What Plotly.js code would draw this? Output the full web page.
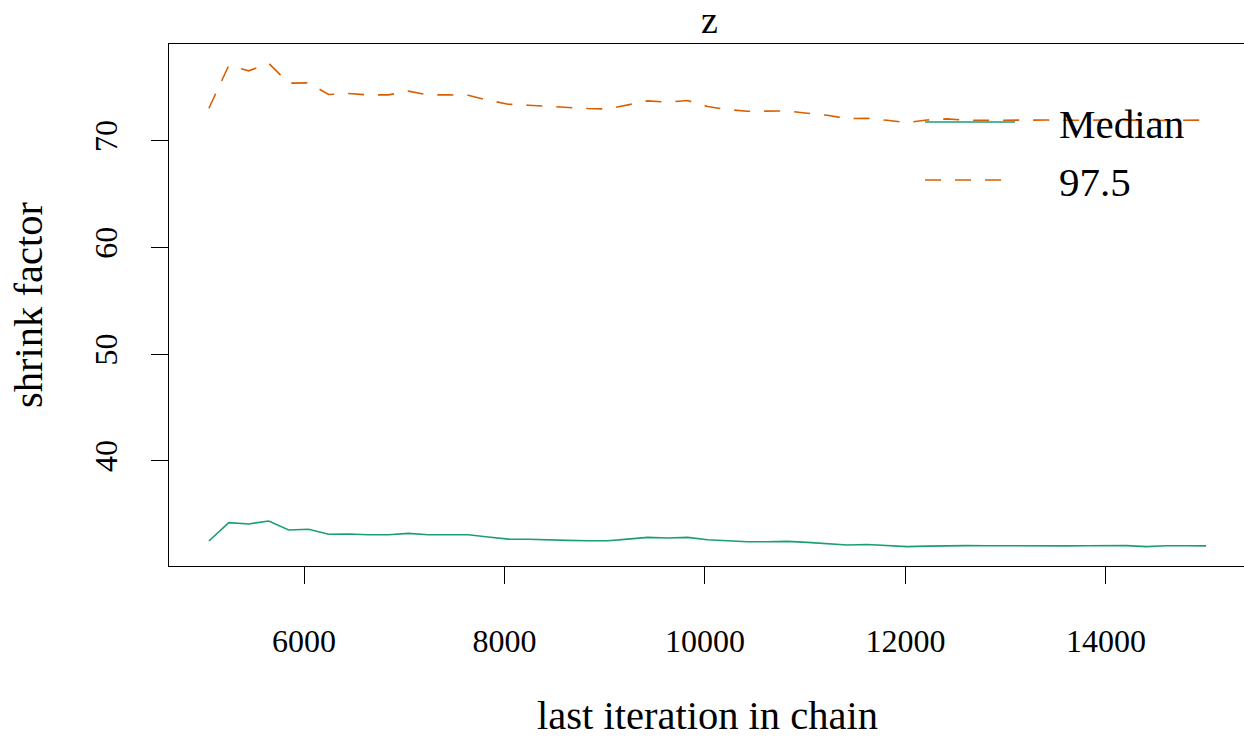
<!DOCTYPE html>
<html>
<head>
<meta charset="utf-8">
<script src="https://cdn.plot.ly/plotly-3.0.1.min.js"></script>
<style>
  html, body { margin: 0; padding: 0; background: #ffffff; overflow: hidden; }
  #chart { width: 1246px; height: 738px; }
</style>
</head>
<body>
<div id="chart"></div>
<script>
// Last iteration of each bin of the chain
const lastIteration = [
  5051, 5250, 5449, 5648, 5847, 6046, 6245, 6444, 6643, 6842,
  7041, 7240, 7439, 7638, 7837, 8036, 8235, 8434, 8633, 8832,
  9031, 9230, 9429, 9628, 9827, 10026, 10225, 10424, 10623, 10822,
  11021, 11220, 11419, 11618, 11817, 12016, 12215, 12414, 12613, 12812,
  13011, 13210, 13409, 13608, 13807, 14006, 14205, 14404, 14603, 14802,
  15000
];

// Shrink factor, median
const shrinkMedian = [
  32.48, 34.20, 34.08, 34.36, 33.51, 33.58, 33.11, 33.14, 33.07, 33.07,
  33.20, 33.07, 33.07, 33.07, 32.85, 32.66, 32.64, 32.57, 32.54, 32.51,
  32.51, 32.66, 32.82, 32.76, 32.82, 32.60, 32.48, 32.41, 32.41, 32.45,
  32.35, 32.26, 32.10, 32.16, 32.07, 31.95, 32.00, 32.06, 32.05, 32.04,
  32.02, 32.01, 32.01, 32.02, 32.04, 32.06, 32.05, 31.95, 32.03, 32.03,
  32.02
];

// Shrink factor, 97.5% quantile
const shrinkUpper = [
  73.06, 77.08, 76.57, 77.27, 75.41, 75.44, 74.35, 74.44, 74.31, 74.31,
  74.66, 74.31, 74.31, 74.28, 73.81, 73.44, 73.34, 73.23, 73.09, 73.03,
  72.99, 73.34, 73.75, 73.63, 73.78, 73.22, 72.94, 72.78, 72.78, 72.81,
  72.59, 72.40, 72.09, 72.12, 71.93, 71.71, 71.96, 72.06, 71.93, 71.95,
  71.98, 71.97, 71.95, 71.93, 71.95, 71.98, 71.97, 71.90, 71.93, 71.95,
  71.95
];

const seriesNames = ["Median", "97.5"];
const seriesColors = ["#1B9E77", "#D95F02"];
const seriesDash = ["solid", "16px,14px"];
const xTicks = [6000, 8000, 10000, 12000, 14000];
const yTicks = [40, 50, 60, 70];

// Axis ranges padded by 4% on each side
function padded(values) {
  const lo = Math.min(...values), hi = Math.max(...values);
  const pad = 0.04 * (hi - lo);
  return [lo - pad, hi + pad];
}
const xRange = padded(lastIteration);
const yRange = padded(shrinkMedian.concat(shrinkUpper));

const FONT = "Liberation Serif, Times New Roman, serif";

const traces = [shrinkMedian, shrinkUpper].map((vals, k) => ({
  x: lastIteration, y: vals, name: seriesNames[k],
  type: "scatter", mode: "lines", showlegend: false,
  line: { color: seriesColors[k], width: 1.6, dash: seriesDash[k] }
}));

// Key without a box, in the upper right of the panel
const keyRows = [0.8506, 0.7395];
const keyShapes = seriesNames.map((n, k) => ({
  type: "line", xref: "paper", yref: "paper",
  x0: 0.702, x1: 0.7855, y0: keyRows[k], y1: keyRows[k],
  line: { color: seriesColors[k], width: 1.6, dash: seriesDash[k] }
}));
const keyLabels = seriesNames.map((n, k) => ({
  text: n, xref: "paper", yref: "paper",
  x: 0.8245, y: keyRows[k] - 0.003, xanchor: "left", yanchor: "middle",
  showarrow: false, font: { family: FONT, size: 41, color: "#000" }
}));

const axisCommon = {
  showgrid: false, zeroline: false,
  showline: true, mirror: true, linecolor: "#000", linewidth: 1,
  ticks: "outside", ticklen: 17, tickwidth: 1, tickcolor: "#000",
  tickfont: { family: FONT, size: 32, color: "#000" }
};

const layout = {
  width: 1246, height: 738,
  paper_bgcolor: "#fff", plot_bgcolor: "#fff",
  margin: { l: 169, r: 0, t: 44, b: 172 },
  font: { family: FONT, color: "#000" },
  title: {
    text: "z", font: { family: FONT, size: 38, color: "#000" },
    x: 0.5694, xanchor: "center", y: 0.973, yanchor: "middle"
  },
  xaxis: Object.assign({}, axisCommon, {
    range: xRange, tickmode: "array", tickvals: xTicks,
    ticktext: xTicks.map(String), ticklabelstandoff: 30,
    title: { text: "last iteration in chain", font: { family: FONT, size: 40.5, color: "#000" }, standoff: 46 }
  }),
  yaxis: Object.assign({}, axisCommon, {
    range: yRange, tickmode: "array", tickvals: yTicks,
    ticktext: yTicks.map(String), tickangle: -90, ticklabelstandoff: 21,
    title: { text: "shrink factor", font: { family: FONT, size: 40.5, color: "#000" }, standoff: 33 }
  }),
  showlegend: false,
  shapes: keyShapes,
  annotations: keyLabels
};

Plotly.newPlot("chart", traces, layout, { displayModeBar: false, staticPlot: true });
</script>
</body>
</html>
